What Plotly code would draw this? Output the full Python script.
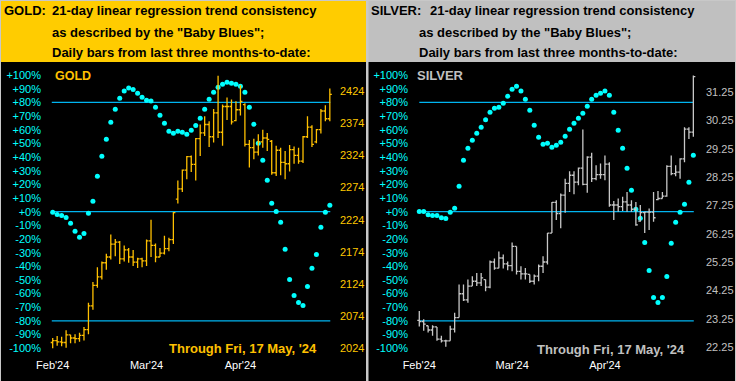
import plotly.graph_objects as go

W, H = 736, 381

# ---------------- DATA ----------------
month_ticks = [0, 21, 42]
month_labels = ["Feb'24", "Mar'24", "Apr'24"]

pct_ticks = list(range(-100, 101, 10))
pct_labels = [("+%d%%" % v) if v >= 0 else ("%d%%" % v) for v in pct_ticks]

gold_ticks = [2024, 2074, 2124, 2174, 2224, 2274, 2324, 2374, 2424]
silver_ticks = [22.25, 23.25, 24.25, 25.25, 26.25, 27.25, 28.25, 29.25, 30.25, 31.25]

gold_open = [2033, 2036, 2034, 2033, 2045, 2040, 2039, 2044, 2053, 2090,
             2122, 2135, 2157, 2166, 2186, 2189, 2163, 2177, 2166, 2158,
             2163, 2160, 2191, 2184, 2166, 2172, 2179, 2193, 2256, 2272,
             2301, 2322, 2310, 2350, 2359, 2372, 2353, 2390, 2360, 2400,
             2400, 2378, 2395, 2403, 2341, 2336, 2329, 2345, 2351, 2346,
             2297, 2332, 2313, 2311, 2333, 2324, 2315, 2353, 2368, 2345,
             2364, 2393, 2381]
gold_high = [2040, 2043, 2042, 2052, 2045, 2046, 2048, 2057, 2095, 2127,
             2150, 2159, 2171, 2201, 2194, 2191, 2184, 2180, 2177, 2165,
             2165, 2193, 2224, 2187, 2180, 2199, 2196, 2236, 2285, 2302,
             2323, 2324, 2351, 2372, 2385, 2377, 2396, 2448, 2403, 2414,
             2411, 2408, 2433, 2405, 2348, 2350, 2357, 2364, 2359, 2348,
             2339, 2336, 2331, 2340, 2338, 2336, 2354, 2385, 2371, 2365,
             2396, 2402, 2428]
gold_low = [2023, 2028, 2027, 2025, 2032, 2032, 2034, 2036, 2046, 2084,
            2118, 2131, 2146, 2162, 2167, 2155, 2159, 2157, 2152, 2149,
            2150, 2152, 2166, 2158, 2166, 2170, 2175, 2186, 2249, 2267,
            2287, 2298, 2285, 2323, 2354, 2337, 2344, 2351, 2339, 2379,
            2372, 2377, 2386, 2338, 2305, 2318, 2324, 2336, 2331, 2294,
            2292, 2293, 2287, 2299, 2311, 2311, 2312, 2351, 2337, 2343,
            2358, 2377, 2377]
gold_close = [2036, 2034, 2033, 2045, 2040, 2039, 2044, 2053, 2090, 2122,
              2135, 2157, 2166, 2186, 2189, 2163, 2177, 2166, 2158, 2163,
              2160, 2191, 2184, 2166, 2172, 2179, 2193, 2235, 2272, 2301,
              2322, 2310, 2350, 2359, 2372, 2353, 2390, 2360, 2400, 2400,
              2376, 2395, 2408, 2341, 2336, 2329, 2345, 2351, 2349, 2297,
              2332, 2313, 2311, 2333, 2324, 2315, 2353, 2368, 2341, 2364,
              2393, 2381, 2419]
gold_blues = [-0.5, -2, -2.9, -4.2, -8.5, -14.4, -18.8, -15.9, -1.2, 7.6,
              25.9, 40.5, 53, 65.4, 75, 83, 88.2, 90.4, 89.4, 86.7,
              83.8, 81.6, 80.9, 76.4, 70.6, 64.7, 58.9, 57.4, 58.9, 58.1,
              56.7, 59.6, 63, 68.4, 75, 82.3, 87.4, 91.1, 93.3, 94.7,
              94, 93.3, 91.8, 87.4, 76.4, 64, 50.1, 37.6, 23, 6.1,
              0.2, -7.8, -27.6, -49.6, -61.3, -66.4, -68.6, -54.7, -41.5, -31.3,
              -11.5, -0.5, 4.6]

silver_open = [23.20, 23.16, 23.01, 22.86, 22.97, 22.54, 22.48, 22.48, 22.89, 23.30,
               24.14, 23.92, 24.41, 24.58, 24.52, 24.64, 24.37, 25.26, 25.04, 25.40,
               25.19, 25.13, 25.81, 24.93, 24.84, 24.82, 24.58, 24.76, 25.11, 25.26,
               26.28, 27.36, 26.97, 27.62, 28.03, 28.32, 28.08, 28.57, 28.00, 28.96,
               28.20, 28.34, 28.34, 28.71, 27.27, 27.27, 27.21, 27.38, 27.27, 27.12,
               26.70, 27.00, 27.02, 27.02, 27.46, 27.50, 27.58, 28.63, 28.38, 28.43,
               28.90, 29.95, 29.84]
silver_high = [23.53, 23.24, 23.01, 23.03, 22.97, 22.66, 22.52, 23.01, 23.47, 24.47,
               24.47, 24.64, 24.76, 24.87, 24.87, 24.64, 25.31, 25.38, 25.63, 25.52,
               25.28, 25.95, 25.81, 25.11, 25.05, 24.82, 24.82, 25.17, 25.46, 26.28,
               27.38, 27.44, 27.68, 28.20, 28.46, 28.46, 28.59, 29.93, 28.99, 29.11,
               28.67, 28.73, 29.02, 28.78, 27.41, 27.50, 27.56, 27.73, 27.44, 27.38,
               27.27, 27.03, 27.15, 27.73, 27.76, 27.73, 28.67, 29.02, 28.67, 28.92,
               30.01, 30.01, 31.84]
silver_low = [22.98, 22.83, 22.77, 22.66, 22.48, 22.42, 22.27, 22.48, 22.77, 23.30,
              23.88, 23.82, 24.41, 24.41, 24.41, 24.23, 24.33, 24.99, 25.04, 25.03,
              24.97, 24.93, 24.82, 24.64, 24.64, 24.52, 24.47, 24.58, 24.87, 25.17,
              26.28, 26.74, 26.45, 27.00, 27.73, 27.65, 27.97, 27.97, 27.70, 28.08,
              28.14, 28.20, 28.14, 27.21, 26.74, 27.03, 27.06, 27.03, 27.03, 26.54,
              26.68, 26.28, 26.39, 26.68, 27.44, 27.50, 27.56, 28.32, 28.28, 28.20,
              28.78, 29.60, 29.68]
silver_close = [23.16, 23.07, 22.86, 22.97, 22.54, 22.48, 22.48, 22.89, 23.30, 24.14,
                23.92, 24.41, 24.58, 24.52, 24.70, 24.37, 25.26, 25.04, 25.40, 25.19,
                25.13, 25.81, 24.93, 24.84, 24.84, 24.58, 24.76, 25.11, 25.26, 26.28,
                27.36, 26.97, 27.62, 28.03, 28.32, 28.08, 28.57, 28.00, 28.96, 28.20,
                28.34, 28.34, 28.71, 27.27, 27.27, 27.21, 27.38, 27.27, 27.12, 26.57,
                27.00, 27.02, 27.02, 26.82, 27.50, 27.58, 28.63, 28.38, 28.43, 28.90,
                29.95, 29.84, 31.80]
silver_blues = [0.2, 0.2, -2.2, -2.9, -2.9, -4.4, -5.1, -0.5, 2.4, 18.6,
                37.6, 46.4, 52.3, 57.4, 61.8, 67.2, 72.8, 75.7, 76.4, 79.4,
                84.5, 89.6, 91.8, 88.2, 82.3, 74.2, 63.2, 54.5, 49.3, 50.1,
                47.1, 48.6, 50.8, 55.2, 60.3, 64.7, 68.4, 72, 77.2, 82.3,
                85.2, 86.7, 88.2, 85.2, 72.8, 59.6, 46.4, 31.7, 15.6, 1.7,
                -4.9, -22.5, -43, -62.8, -66.4, -62.8, -47.4, -23.2, -7.8, -0.5,
                5.4, 21.5, 41.3]

ref_levels = [80, 0, -80]
through_text = "Through Fri, 17 May, '24"

# ---------------- STYLE ----------------
FONT = "Liberation Sans, Arial, sans-serif"
GOLD = "#FFC000"
GOLD_TXT = "#FFC800"
SILV = "#C8C8C8"
SILV_TXT = "#C0C0C0"
CYAN = "#00FFFF"
LINE = "#00B4F0"


def px(x):
    return x / W


def py(y):
    return 1 - y / H


gidx = list(range(len(gold_close)))
sidx = list(range(len(silver_close)))

fig = go.Figure()

fig.add_trace(go.Ohlc(x=gidx, open=gold_open, high=gold_high, low=gold_low, close=gold_close,
                      xaxis="x", yaxis="y2", tickwidth=0.45, hoverinfo="skip",
                      increasing=dict(line=dict(color=GOLD, width=1.3)),
                      decreasing=dict(line=dict(color=GOLD, width=1.3)), showlegend=False))
fig.add_trace(go.Scatter(x=gidx, y=gold_blues, mode="markers", xaxis="x", yaxis="y",
                         marker=dict(color=CYAN, size=5, line=dict(width=0)),
                         hoverinfo="skip", showlegend=False))

fig.add_trace(go.Ohlc(x=sidx, open=silver_open, high=silver_high, low=silver_low, close=silver_close,
                      xaxis="x2", yaxis="y4", tickwidth=0.45, hoverinfo="skip",
                      increasing=dict(line=dict(color=SILV, width=1.3)),
                      decreasing=dict(line=dict(color=SILV, width=1.3)), showlegend=False))
fig.add_trace(go.Scatter(x=sidx, y=silver_blues, mode="markers", xaxis="x2", yaxis="y3",
                         marker=dict(color=CYAN, size=5, line=dict(width=0)),
                         hoverinfo="skip", showlegend=False))

ydom = [py(348.3), py(75)]

xcommon = dict(showgrid=False, zeroline=False, showline=False, ticks="", automargin=False,
               tickvals=month_ticks, ticktext=month_labels,
               tickfont=dict(family=FONT, size=11, color="white"),
               rangeslider=dict(visible=False), fixedrange=True, ticklabelstandoff=9)

pcommon = dict(showgrid=False, zeroline=False, showline=False, ticks="", automargin=False,
               range=[-100, 100], tickvals=pct_ticks, ticktext=pct_labels,
               tickfont=dict(family=FONT, size=11, color=CYAN), domain=ydom,
               fixedrange=True, ticklabelstandoff=3)

fig.update_layout(
    width=W, height=H, margin=dict(l=0, r=0, t=0, b=0, pad=0, autoexpand=False),
    paper_bgcolor="#C8C8C8", plot_bgcolor="black",
    xaxis=dict(domain=[px(45), px(336)], range=[-1.72, 63.38], anchor="y", **xcommon),
    xaxis2=dict(domain=[px(412), px(702)], range=[-1.65, 63.96], anchor="y3", **xcommon),
    yaxis=dict(anchor="x", side="left", **pcommon),
    yaxis2=dict(anchor="x", overlaying="y", side="right", range=[2024, 2449],
                tickvals=gold_ticks, ticktext=[str(v) for v in gold_ticks], automargin=False,
                showgrid=False, zeroline=False, showline=False, ticks="",
                tickfont=dict(family=FONT, size=11, color=GOLD_TXT), fixedrange=True,
                ticklabelstandoff=3),
    yaxis3=dict(anchor="x2", side="left", **pcommon),
    yaxis4=dict(anchor="x2", overlaying="y3", side="right", range=[22.215, 31.856],
                tickvals=silver_ticks, ticktext=["%.2f" % v for v in silver_ticks], automargin=False,
                showgrid=False, zeroline=False, showline=False, ticks="",
                tickfont=dict(family=FONT, size=11, color=SILV_TXT), fixedrange=True,
                ticklabelstandoff=3),
    showlegend=False,
)

shapes = [
    # panel backgrounds
    dict(type="rect", xref="paper", yref="paper", x0=px(1), x1=px(366), y0=py(62), y1=py(381),
         fillcolor="black", line=dict(width=0), layer="below"),
    dict(type="rect", xref="paper", yref="paper", x0=px(368.5), x1=px(735), y0=py(62), y1=py(381),
         fillcolor="black", line=dict(width=0), layer="below"),
    dict(type="rect", xref="paper", yref="paper", x0=px(1), x1=px(366), y0=py(1), y1=py(62),
         fillcolor="#FFCC00", line=dict(width=0), layer="below"),
    dict(type="rect", xref="paper", yref="paper", x0=px(368.5), x1=px(735), y0=py(1), y1=py(62),
         fillcolor="#C0C0C0", line=dict(width=0), layer="below"),
]
for lv in ref_levels:
    shapes.append(dict(type="line", xref="x", yref="y", x0=-0.2, x1=62.1, y0=lv, y1=lv,
                       line=dict(color=LINE, width=1.3), layer="below"))
    shapes.append(dict(type="line", xref="x2", yref="y3", x0=0, x1=62.1, y0=lv, y1=lv,
                       line=dict(color=LINE, width=1.3), layer="below"))
fig.update_layout(shapes=shapes)

ann = []


def txt(x, y, s, size=13, color="black", bold=True):
    ann.append(dict(xref="paper", yref="paper", x=px(x), y=py(y), xanchor="left", yanchor="middle",
                    text=("<b>%s</b>" % s) if bold else s, showarrow=False,
                    font=dict(family=FONT, size=size, color=color), borderpad=0))


txt(3, 11, "GOLD:")
txt(51, 11, "21-day linear regression trend consistency")
txt(51, 32, 'as described by the "Baby Blues";')
txt(51, 52, "Daily bars from last three months-to-date:")
txt(370, 11, "SILVER:")
txt(429, 11, "21-day linear regression trend consistency")
txt(418, 32, 'as described by the "Baby Blues";')
txt(418, 52, "Daily bars from last three months-to-date:")

txt(54, 76, "GOLD", size=12.5, color=GOLD)
txt(416, 76, "SILVER", size=13, color=SILV_TXT)
txt(168, 348, through_text, size=13, color=GOLD)
txt(536, 349, through_text, size=13, color=SILV_TXT)

fig.update_layout(annotations=ann)

fig.write_html("out.html", config={"displayModeBar": False, "staticPlot": True},
               post_script="document.body.style.margin='0';document.body.style.overflow='hidden';")
